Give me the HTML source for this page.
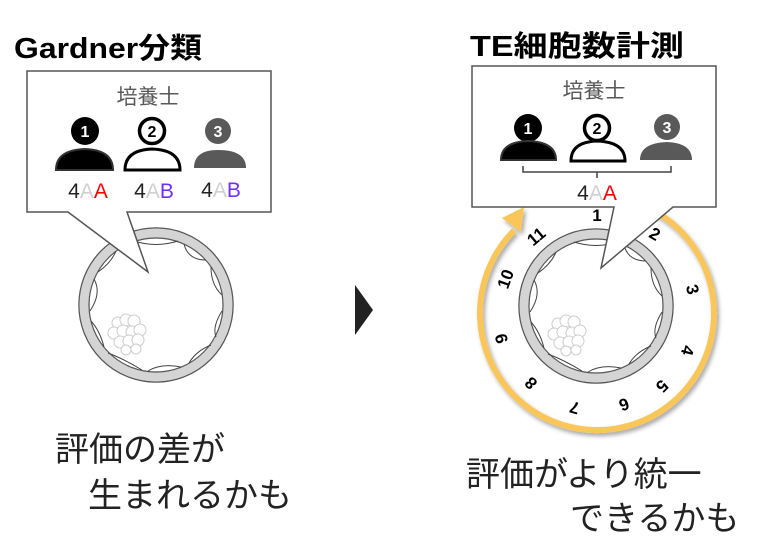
<!DOCTYPE html>
<html><head><meta charset="utf-8"><style>
body{margin:0;background:#fff;}
svg{display:block;font-family:"Liberation Sans","Noto Sans CJK JP",sans-serif;}
</style></head><body>
<svg width="768" height="556" viewBox="0 0 768 556" xmlns="http://www.w3.org/2000/svg">
<defs>
<filter id="sh" x="-20%" y="-20%" width="140%" height="140%"><feDropShadow dx="2" dy="3" stdDeviation="2" flood-color="#000" flood-opacity="0.35"/></filter>
<g id="embryo">
  <circle r="77" fill="#fff" stroke="#555" stroke-width="1.5"/>
  <circle r="72" fill="none" stroke="#d4d4d4" stroke-width="9"/>
  <circle r="67" fill="#fff" stroke="#555" stroke-width="1.2"/>
  <g fill="none" stroke="#444" stroke-width="1">
    <path d="M-22,-64 Q0,-57 22,-64"/>
    <path d="M28,-61 Q32,-45 50,-45"/>
    <path d="M55,-38 Q55,-20 66,-10"/>
    <path d="M66,6 Q56,22 60,32"/>
    <path d="M55,40 Q40,46 33,58"/>
    <path d="M25,62 Q5,58 -8,66"/>
    <path d="M-14,65 Q-32,54 -48,48"/>
    <path d="M-52,42 Q-56,26 -65,16"/>
    <path d="M-66,6 Q-54,-12 -62,-26"/>
    <path d="M-58,-33 Q-45,-42 -40,-54"/>
  </g>
  <g fill="#fff" stroke="#ccc" stroke-width="1">
    <circle cx="-38" cy="18" r="6"/><circle cx="-30" cy="15" r="6"/><circle cx="-22" cy="16" r="6"/>
    <circle cx="-42" cy="28" r="6"/><circle cx="-33" cy="26" r="6"/><circle cx="-24" cy="27" r="6"/><circle cx="-16" cy="25" r="6"/>
    <circle cx="-36" cy="37" r="6"/><circle cx="-27" cy="36" r="6"/><circle cx="-18" cy="35" r="6"/>
    <circle cx="-30" cy="45" r="5"/><circle cx="-20" cy="44" r="5"/>
  </g>
</g>
</defs>

<!-- LEFT -->
<text x="14" y="58" font-size="29" font-weight="bold" fill="#000" textLength="188" lengthAdjust="spacingAndGlyphs">Gardner分類</text>
<use href="#embryo" x="156" y="305"/>
<path d="M27,71 H271 V212 H127 L148,272 L68,212 H27 Z" fill="#fff" stroke="#555" stroke-width="1.5"/>
<text x="148" y="104" font-size="21" fill="#595959" text-anchor="middle">培養士</text>
<circle cx="85" cy="131" r="14" fill="#000"/>
<text x="85" y="137" font-size="16" font-weight="bold" fill="#fff" text-anchor="middle">1</text>
<path d="M56,170 Q56,150 85,149 Q113,150 113,170 Z" fill="#000" stroke="#333" stroke-width="2"/>
<circle cx="152" cy="131" r="12.5" fill="#fff" stroke="#000" stroke-width="3.5"/>
<text x="152" y="137" font-size="16" font-weight="bold" fill="#000" text-anchor="middle">2</text>
<path d="M125,170 Q125,150 152,149 Q180,150 180,170 Z" fill="#fff" stroke="#000" stroke-width="3"/>
<circle cx="218" cy="131" r="13" fill="#595959"/>
<text x="218" y="137" font-size="16" font-weight="bold" fill="#fff" text-anchor="middle">3</text>
<path d="M194,168 Q194,150 218,150 Q246,150 246,168 Z" fill="#595959"/>
<text x="88" y="198" font-size="21" text-anchor="middle"><tspan fill="#222">4</tspan><tspan fill="#d0d0d0">A</tspan><tspan fill="#ff0000">A</tspan></text>
<text x="154" y="198" font-size="21" text-anchor="middle"><tspan fill="#222">4</tspan><tspan fill="#d0d0d0">A</tspan><tspan fill="#7030ff">B</tspan></text>
<text x="221" y="197" font-size="21" text-anchor="middle"><tspan fill="#222">4</tspan><tspan fill="#d0d0d0">A</tspan><tspan fill="#7030ff">B</tspan></text>

<path d="M355,285 L373,310 L355,335 Z" fill="#222"/>

<!-- RIGHT -->
<text x="470" y="56" font-size="29" font-weight="bold" fill="#000" textLength="214" lengthAdjust="spacingAndGlyphs">TE細胞数計測</text>
<g filter="url(#sh)">
<path d="M655.5,211.7 A117,117 0 1 1 514.3,230.3" fill="none" stroke="#fac65a" stroke-width="6"/>
<path d="M524,207 L502,218 L521,232 Z" fill="#fac65a"/>
</g>
<use href="#embryo" x="596" y="306"/>
<g font-size="17" font-weight="bold" fill="#000" text-anchor="middle">
<text transform="translate(597,221)">1</text>
<text transform="translate(652,239) rotate(30)">2</text>
<text transform="translate(687,291) rotate(75)">3</text>
<text transform="translate(682,349) rotate(105)">4</text>
<text transform="translate(658,382) rotate(135)">5</text>
<text transform="translate(622,399) rotate(160)">6</text>
<text transform="translate(576,402) rotate(195)">7</text>
<text transform="translate(535,379) rotate(225)">8</text>
<text transform="translate(507,337) rotate(255)">9</text>
<text transform="translate(511,281) rotate(-70)">10</text>
<text transform="translate(540,241) rotate(-40)">11</text>
</g>
<path d="M472,66 H716 V207 H673 L601,268 L614,207 H472 Z" fill="#fff" stroke="#555" stroke-width="1.5"/>
<text x="594" y="98" font-size="21" fill="#595959" text-anchor="middle">培養士</text>
<circle cx="528" cy="128" r="14" fill="#000"/>
<text x="528" y="134" font-size="16" font-weight="bold" fill="#fff" text-anchor="middle">1</text>
<path d="M501,160 Q501,142 528,141 Q556,142 556,160 Z" fill="#000" stroke="#333" stroke-width="2"/>
<circle cx="597" cy="128" r="12.5" fill="#fff" stroke="#000" stroke-width="3.5"/>
<text x="597" y="134" font-size="16" font-weight="bold" fill="#000" text-anchor="middle">2</text>
<path d="M571,161 Q571,142 597,141 Q625,142 625,161 Z" fill="#fff" stroke="#000" stroke-width="3"/>
<circle cx="667" cy="127" r="13" fill="#595959"/>
<text x="667" y="133" font-size="16" font-weight="bold" fill="#fff" text-anchor="middle">3</text>
<path d="M640,160 Q640,143 667,142 Q692,143 692,160 Z" fill="#595959"/>
<path d="M523,166 V172 H671 V166 M597,172 V178" fill="none" stroke="#444" stroke-width="1.5"/>
<text x="597" y="200" font-size="21" text-anchor="middle"><tspan fill="#222">4</tspan><tspan fill="#d0d0d0">A</tspan><tspan fill="#ff0000">A</tspan></text>

<g font-size="34" fill="#222">
<text x="55" y="461">評価の差が</text>
<text x="88" y="507">生まれるかも</text>
<text x="466" y="486">評価がより統一</text>
<text x="570" y="530">できるかも</text>
</g>
</svg>
</body></html>
